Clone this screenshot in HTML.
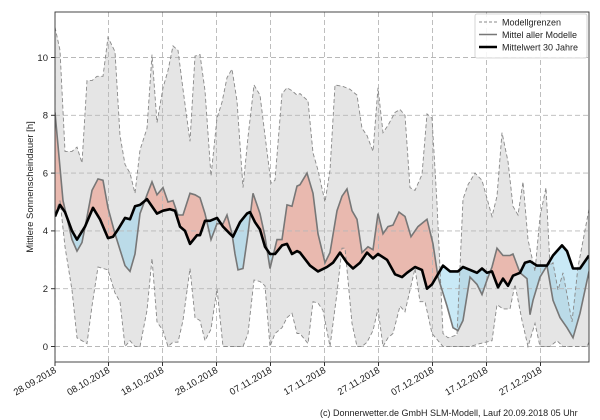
<!DOCTYPE html>
<html><head><meta charset="utf-8">
<style>body{margin:0;background:#fff}svg{display:block;font-family:"Liberation Sans","DejaVu Sans",sans-serif}</style>
</head><body>
<svg id="s" width="600" height="420" viewBox="0 0 600 420" xmlns="http://www.w3.org/2000/svg">
<defs>
<clipPath id="plot"><rect x="55" y="12" width="534" height="350"/></clipPath>
<clipPath id="aboveClim"><path id="cA"/></clipPath>
<clipPath id="aboveMean"><path id="mA"/></clipPath>
</defs>
<g clip-path="url(#plot)">
<path id="band" fill="#e5e5e5" stroke="none"/>
<g clip-path="url(#aboveClim)"><path id="red" fill="rgba(238,125,100,0.42)"/></g>
<g clip-path="url(#aboveMean)"><path id="blue" fill="rgba(135,206,235,0.45)"/></g>
<g id="grid" stroke="#b8b8b8" stroke-width="0.9" stroke-dasharray="5,3" fill="none"></g>
<path id="up" fill="none" stroke="#888" stroke-width="0.9" stroke-dasharray="4,2.5"/>
<path id="lo" fill="none" stroke="#888" stroke-width="0.9" stroke-dasharray="4,2.5"/>
<path id="mean" fill="none" stroke="#777" stroke-width="1.6"/>
<path id="clim" fill="none" stroke="#000" stroke-width="2.6" stroke-linejoin="round"/>
</g>
<rect x="55" y="12" width="534" height="350" fill="none" stroke="#333" stroke-width="0.9"/>
<g id="ticks" font-size="9.5" fill="#222"></g>
<text transform="translate(33,187) rotate(-90)" text-anchor="middle" font-size="9.5" fill="#222">Mittlere Sonnenscheindauer [h]</text>
<rect x="475" y="14" width="112" height="44" fill="#fff" fill-opacity="0.85" stroke="#ccc" stroke-width="0.8" rx="2"/>
<line x1="479" y1="22" x2="497" y2="22" stroke="#888" stroke-dasharray="3,2" stroke-width="1"/>
<text x="502" y="25.5" font-size="9" fill="#222">Modellgrenzen</text>
<line x1="479" y1="34.5" x2="497" y2="34.5" stroke="#777" stroke-width="1.6"/>
<text x="502" y="38" font-size="9" fill="#222">Mittel aller Modelle</text>
<line x1="479" y1="47" x2="497" y2="47" stroke="#000" stroke-width="2.6"/>
<text x="502" y="50.5" font-size="9" fill="#222">Mittelwert 30 Jahre</text>
<text x="320" y="416" font-size="9" fill="#222">(c) Donnerwetter.de GmbH SLM-Modell, Lauf 20.09.2018 05 Uhr</text>
</svg>
<script>
function Y(v){return 346.5-v*28.9;}
function P(a){return a.map(function(p,i){return (i?'L':'M')+p[0]+','+Y(p[1]).toFixed(1);}).join('');}
var up=[[55,11.05],[60,10.25],[65,6.75],[72,6.75],[77,6.9],[82,6.35],[87,9.2],[92,9.2],[97,9.35],[103,9.35],[108,10.7],[115,10.2],[120,7.3],[125,6.3],[130,6.0],[135,5.3],[140,6.8],[147,7.55],[152,10.1],[157,7.75],[163,8.95],[168,9.55],[173,10.4],[178,10.25],[183,8.9],[190,7.1],[195,10.05],[200,10.1],[205,8.85],[211,5.9],[217,7.9],[222,8.45],[227,9.3],[232,9.6],[237,8.5],[243,5.5],[248,7.25],[254,9.05],[260,8.7],[265,7.3],[271,5.65],[275,5.75],[282,8.75],[287,8.95],[292,8.85],[297,8.7],[300,8.75],[308,8.5],[313,6.7],[318,6.1],[325,5.0],[330,6.1],[335,9.05],[343,9.0],[350,8.9],[357,8.7],[362,7.55],[367,7.3],[373,6.75],[378,8.95],[383,7.4],[388,7.65],[395,8.1],[400,8.2],[405,8.0],[410,5.5],[415,5.4],[422,5.95],[427,8.05],[432,7.9],[437,4.95],[443,0.45],[448,0.3],[457,0.4],[463,5.1],[468,5.6],[475,6.0],[482,5.75],[492,4.5],[497,5.2],[502,7.4],[508,6.4],[513,4.85],[518,4.55],[523,5.7],[528,3.7],[535,2.6],[540,4.5],[546,5.5],[550,2.8],[553,2.9],[558,1.95],[563,2.55],[572,0.85],[578,2.75],[589,4.75]];
var lo=[[55,4.6],[60,5.05],[65,3.45],[72,1.95],[77,0.3],[87,0.1],[92,1.4],[98,2.75],[108,2.65],[115,1.85],[120,1.55],[125,0],[130,0.2],[135,0],[140,0],[147,1.25],[152,3.05],[157,0.85],[163,0.55],[168,0],[173,0.15],[178,0.15],[183,0.9],[190,2.7],[195,1.0],[200,0.9],[205,0.2],[211,0.6],[217,2.0],[223,0],[243,0],[248,0.45],[254,2.3],[260,2.25],[265,2.1],[270,0],[275,0.45],[282,0.65],[287,1.0],[292,1.15],[297,0.45],[300,0.45],[308,0.1],[313,1.55],[318,1.5],[323,1.25],[330,0],[337,1.85],[342,3.4],[345,3.4],[352,0.8],[357,0],[362,0],[367,0.15],[373,0.55],[378,1.3],[383,0],[388,0.3],[393,0.45],[400,1.4],[405,1.2],[410,1.95],[415,2.7],[420,1.55],[425,1.55],[432,0.45],[443,0],[470,0],[480,0.1],[492,0.2],[497,1.45],[503,1.3],[510,1.3],[515,2.15],[522,0.9],[528,0],[535,0.8],[540,0],[550,0],[557,0.2],[563,0],[587,0],[589,0.15]];
var mean=[[55,8.1],[63,5.05],[72,3.7],[77,3.3],[82,3.6],[86,4.3],[92,5.4],[98,5.8],[103,5.75],[108,4.8],[115,3.9],[120,3.35],[125,2.8],[130,2.6],[135,3.2],[140,4.6],[147,5.25],[152,5.7],[157,5.25],[163,5.5],[168,5.0],[173,5.05],[178,4.55],[183,4.55],[190,5.3],[195,5.25],[200,5.15],[205,4.6],[211,3.7],[217,4.25],[223,4.25],[227,4.55],[232,3.9],[235,3.2],[238,2.65],[243,2.7],[248,3.9],[253,5.3],[260,4.6],[265,3.8],[270,2.7],[277,3.7],[282,3.7],[287,4.9],[292,4.85],[297,5.55],[300,5.6],[307,6.0],[313,5.3],[318,3.9],[325,2.9],[330,3.25],[337,4.7],[342,5.2],[347,5.45],[352,4.7],[357,4.4],[362,3.25],[368,3.45],[373,3.35],[378,4.6],[383,3.9],[388,4.15],[393,4.2],[399,4.65],[405,4.5],[411,3.8],[418,4.15],[427,4.4],[433,3.55],[438,2.4],[447,1.4],[453,0.65],[458,0.55],[463,0.9],[470,2.4],[477,2.15],[482,1.8],[487,2.3],[492,2.75],[497,3.4],[503,3.15],[510,3.15],[513,3.2],[520,2.55],[527,2.35],[530,1.1],[533,1.6],[540,2.4],[547,2.8],[553,1.6],[560,1.0],[567,0.65],[573,0.3],[580,1.15],[589,2.6]];
var clim=[[55,4.5],[60,4.9],[65,4.65],[72,4.0],[77,3.7],[85,4.15],[93,4.8],[100,4.4],[108,3.75],[113,3.8],[118,4.05],[125,4.45],[130,4.4],[135,4.85],[140,4.9],[147,5.1],[157,4.6],[163,4.7],[170,4.75],[175,4.7],[180,4.15],[185,4.0],[190,3.55],[197,3.85],[200,3.85],[205,4.35],[210,4.35],[217,4.45],[223,4.15],[230,3.9],[233,3.8],[240,4.3],[247,4.6],[250,4.65],[255,4.3],[260,4.05],[265,3.45],[270,3.2],[275,3.2],[282,3.5],[287,3.55],[292,3.2],[297,3.3],[300,3.25],[310,2.8],[318,2.6],[327,2.75],[333,2.9],[340,3.25],[347,2.9],[353,2.7],[360,2.9],[367,3.25],[373,3.05],[378,3.2],[387,3.0],[395,2.5],[402,2.4],[407,2.55],[415,2.75],[422,2.65],[427,2.0],[432,2.15],[443,2.8],[450,2.6],[458,2.6],[463,2.75],[477,2.55],[482,2.7],[487,2.55],[492,2.6],[498,2.05],[503,2.35],[508,2.1],[513,2.45],[520,2.55],[525,2.9],[530,2.95],[537,2.8],[547,2.8],[553,3.15],[562,3.5],[567,3.3],[573,2.7],[580,2.7],[589,3.15]];
function $(i){return document.getElementById(i);}
var B=P(up)+P(lo.slice().reverse()).replace('M','L')+'Z';$('band').setAttribute('d',B);
$('up').setAttribute('d',P(up));$('lo').setAttribute('d',P(lo));
$('mean').setAttribute('d',P(mean));$('clim').setAttribute('d',P(clim));
$('red').setAttribute('d',P(mean)+'L589,400L55,400Z');
$('cA').setAttribute('d',P(clim)+'L589,0L55,0Z');
$('blue').setAttribute('d',P(clim)+'L589,400L55,400Z');
$('mA').setAttribute('d',P(mean)+'L589,0L55,0Z');
var g=$('grid'),t=$('ticks'),ns='http://www.w3.org/2000/svg',h='';
var xs=[55,108.5,162.5,216.5,270.5,324.5,378.5,432.5,486.5,540.5];
var lab=['28.09.2018','08.10.2018','18.10.2018','28.10.2018','07.11.2018','17.11.2018','27.11.2018','07.12.2018','17.12.2018','27.12.2018'];
var gh='',th='';
xs.forEach(function(x,i){gh+='<line x1="'+x+'" y1="12" x2="'+x+'" y2="362"/>';
th+='<line x1="'+x+'" y1="362" x2="'+x+'" y2="366" stroke="#333"/>';
th+='<text transform="translate('+(x+2)+',372) rotate(-30)" text-anchor="end" font-size="9.5">'+lab[i]+'</text>';});
[0,2,4,6,8,10].forEach(function(v){var y=Y(v);gh+='<line x1="55" y1="'+y+'" x2="589" y2="'+y+'"/>';
th+='<line x1="51" y1="'+y+'" x2="55" y2="'+y+'" stroke="#333"/><text x="48" y="'+(y+3.3)+'" text-anchor="end">'+v+'</text>';});
g.innerHTML=gh;t.innerHTML=th;
</script>
</body></html>
